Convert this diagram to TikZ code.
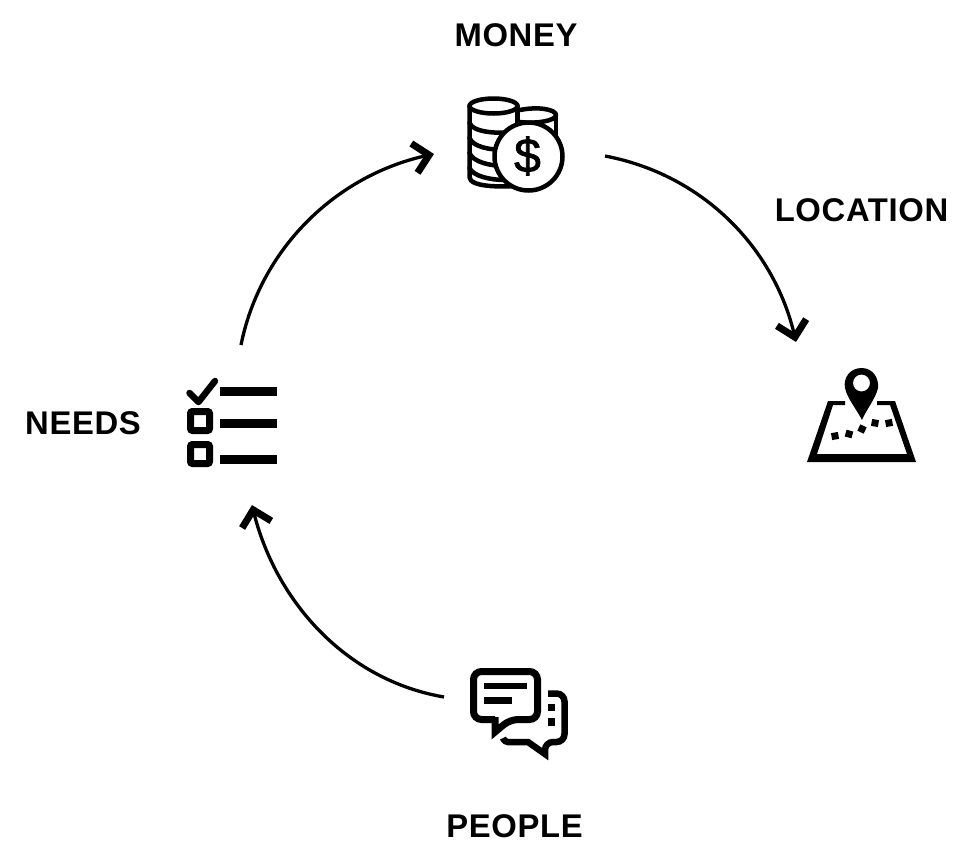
\documentclass[tikz,border=0pt]{standalone}
\usepackage{fontspec}
\setmainfont{Liberation Sans}
\newfontfamily\dollarfont[FakeBold=1.6]{Liberation Sans}
\usetikzlibrary{arrows.meta}
\pgfdeclarearrow{
 name=Chev,
 setup code={\pgfarrowssettipend{0pt}\pgfarrowssetlineend{-6pt}\pgfarrowssetvisualbackend{-20pt}\pgfarrowssetbackend{-22pt}},
 drawing code={\pgfsetlinewidth{7pt}\pgfsetmiterjoin\pgfsetbuttcap
  \pgfpathmoveto{\pgfqpoint{-20pt}{15pt}}\pgfpathlineto{\pgfqpoint{-5pt}{0pt}}\pgfpathlineto{\pgfqpoint{-20pt}{-15pt}}\pgfusepathqstroke}
}
\tikzset{
 lab/.style={font=\fontsize{32.8}{36}\selectfont\bfseries\addfontfeature{LetterSpace=2},text=black,inner sep=0pt,anchor=center},
 arc/.style={line width=3.3pt,black,-{Chev[]}},
 ink/.style={line width=#1,black,line join=round,line cap=round},
 ink/.default=5pt
}
\begin{document}
\begin{tikzpicture}[x=1pt,y=-1pt]
\useasboundingbox (0,0) rectangle (974,855);
\node[lab] (money) at (516,35) {MONEY};
\node[lab] (location) at (861.5,210) {LOCATION};
\node[lab] (needs) at (83,423) {NEEDS};
\node[lab] (people) at (514.5,826) {PEOPLE};
\coordinate (a1s) at (605,156);
\coordinate (a1e) at (796,342);
\coordinate (a2s) at (444,697);
\coordinate (a2e) at (252,505);
\coordinate (a3s) at (241,345);
\coordinate (a3e) at (434,154);
\draw[arc] (a1s) .. controls (705,175) and (775,250) .. (a1e);
\draw[arc] (a2s) .. controls (345,680) and (275,600) .. (a2e);
\draw[arc] (a3s) .. controls (260,250) and (335,175) .. (a3e);
% money
\begin{scope}[ink=4.5pt]
\draw (469.5,106) arc[start angle=180,end angle=-180,x radius=24,y radius=7.5];
\draw (469.5,106) -- (469.5,177) .. controls (469.5,187) and (500,187) .. (515,186);
\draw (469.5,123) .. controls (473,132) and (495,134) .. (515,132);
\draw (469.5,138) .. controls (473,147) and (490,150) .. (505,150);
\draw (469.5,153) .. controls (473,162) and (490,166) .. (505,166);
\draw (469.5,168) .. controls (473,176) and (490,180) .. (505,180);
\draw (517.5,106) -- (517.5,128);
\draw (520,110) .. controls (540,106) and (556,110) .. (556,115) .. controls (556,121) and (535,124) .. (520,122);
\draw (556,115) -- (556,140);
\draw[fill=white] (528.5,156.5) circle[radius=34];
\end{scope}
\node[inner sep=0pt,font=\fontsize{48}{48}\selectfont\dollarfont,text=black] (dollar) at (527.5,156) {\$};
% map
\fill[black,even odd rule] (861.5,368) .. controls (850,368) and (843,378) .. (845,388) .. controls (847,398) and (857,410) .. (862,420) .. controls (866,410) and (876,398) .. (878,388) .. controls (879,378) and (873,368) .. (861.5,368) -- cycle (861.5,383) circle[radius=8.5];
\fill[black] (845,401) -- (828,401) -- (807,462) -- (916,462) -- (895,401) -- (877,401) -- (877,405) -- (890,405) -- (907,454) -- (817,454) -- (833,405) -- (845,405) -- cycle;
\fill[black,rotate around={10:(835,436)}] (831.5,432.5) rectangle +(7,7);
\fill[black,rotate around={-15:(849,434)}] (845.5,430.5) rectangle +(7,7);
\fill[black,rotate around={-25:(862,429)}] (858.5,425.5) rectangle +(7,7);
\fill[black,rotate around={-10:(875,423)}] (871.5,419.5) rectangle +(7,7);
\fill[black,rotate around={10:(889,423)}] (885.5,419.5) rectangle +(7,7);
% needs
\draw[ink=6.5pt] (189.5,393) -- (198.5,402) -- (215,381);
\draw[line width=7pt,black,rounded corners=2pt] (190.5,411.5) rectangle (209.5,430.5);
\draw[line width=7pt,black,rounded corners=2pt] (190.5,444.5) rectangle (209.5,463.5);
\fill[black] (220,387) rectangle (277,396);
\fill[black] (220,419) rectangle (277,428);
\fill[black] (220,455) rectangle (277,464);
% people
\draw[line width=7pt,black,line join=miter] [rounded corners=8pt] (495,719.5) -- (473.5,719.5) -- (473.5,671.5) -- (537.5,671.5) -- (537.5,719.5) -- (510,719.5) [sharp corners] -- (495,732) -- (495,717);
\fill[black] (484,683) rectangle (527,689);
\fill[black] (484,697) rectangle (512,704);
\draw[line width=6.5pt,black,line join=miter] [rounded corners=8pt] (548,693.5) -- (564.5,693.5) -- (564.5,742) -- (545,742) [sharp corners] -- (545,754) -- (528,742) [rounded corners=3pt] -- (505,742) -- (503,738);
\fill[black] (548,704) rectangle (555,711);
\fill[black] (548,718) rectangle (555,726);
\end{tikzpicture}
\end{document}
